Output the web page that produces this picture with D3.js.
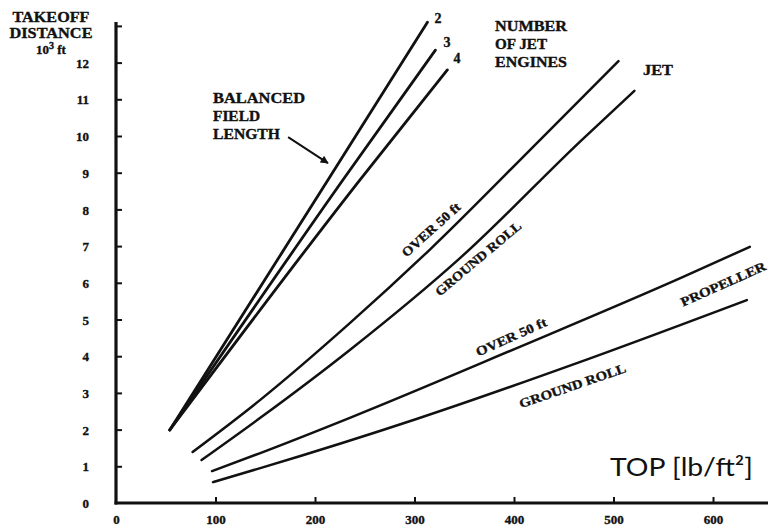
<!DOCTYPE html>
<html>
<head>
<meta charset="utf-8">
<script src="https://cdn.jsdelivr.net/npm/d3@7"></script>
<style>
  body { margin: 0; background: #fff; }
  svg { display: block; }
  .lbl { font-family: "Liberation Serif", "DejaVu Serif", serif; font-weight: bold; fill: #111; stroke: #111; stroke-width: 0.35px; }
</style>
</head>
<body>
<svg id="chart" width="768" height="529"></svg>
<script>
// wing loading (lb/ft^2) vs takeoff distance (10^3 ft)
const xTicks = [0, 100, 200, 300, 400, 500, 600];
const yTicks = [0, 1, 2, 3, 4, 5, 6, 7, 8, 9, 10, 11, 12, 13];

// balanced field length, by number of jet engines
const bfl2X = [54, 213, 313];
const bfl2Y = [1.99, 8.8, 13.1];
const bfl3X = [54, 228, 321];
const bfl3Y = [1.99, 8.8, 12.34];
const bfl4X = [54, 245, 333];
const bfl4Y = [1.99, 8.8, 11.8];

// jet
const jetOverX = [77, 145, 235, 316, 426, 505];
const jetOverY = [1.39, 2.81, 4.90, 6.92, 9.89, 12.04];
const jetRollX = [86, 145, 235, 346, 468, 521];
const jetRollY = [1.17, 2.32, 4.17, 6.68, 9.89, 11.23];

// propeller
const propOverX = [96.5, 145, 235, 401, 570, 637];
const propOverY = [0.87, 1.36, 2.32, 4.20, 6.16, 6.98];
const propRollX = [97.5, 145, 302, 466, 634];
const propRollY = [0.57, 0.95, 2.29, 3.84, 5.53];

const zip = (xs, ys) => xs.map((v, i) => [v, ys[i]]);

const series = [
  zip(bfl2X, bfl2Y), zip(bfl3X, bfl3Y), zip(bfl4X, bfl4Y),
  zip(jetOverX, jetOverY), zip(jetRollX, jetRollY),
  zip(propOverX, propOverY), zip(propRollX, propRollY)
];

const svg = d3.select("#chart");

const x = d3.scaleLinear().domain([0, 700]).range([116, 812.5]);
const y = d3.scaleLinear().domain([0, 13]).range([503, 25.9]);

// axes
const xAxis = d3.axisBottom(x)
  .tickValues(xTicks)
  .tickSizeInner(-6)
  .tickSizeOuter(0)
  .tickPadding(12);

const gx = svg.append("g")
  .attr("transform", `translate(0, ${y(0)})`)
  .call(xAxis);
gx.select(".domain").remove();
gx.selectAll(".tick line").attr("stroke", "#111").attr("stroke-width", 2);
gx.selectAll(".tick").filter(d => d === 0).select("line").remove();
gx.selectAll(".tick text")
  .attr("class", "lbl")
  .attr("font-size", 13);

const yAxis = d3.axisLeft(y)
  .tickValues(yTicks)
  .tickSizeInner(-6)
  .tickSizeOuter(0)
  .tickPadding(27)
  .tickFormat(d => d === 13 ? "" : d);

const gy = svg.append("g")
  .attr("transform", `translate(${x(0)}, 0)`)
  .call(yAxis);
gy.select(".domain").remove();
gy.selectAll(".tick line").attr("stroke", "#111").attr("stroke-width", 2);
gy.selectAll(".tick").filter(d => d === 0).select("line").remove();
gy.selectAll(".tick text")
  .attr("class", "lbl")
  .attr("font-size", 13)
  .attr("dy", "0.36em");

// thick axis lines
svg.append("line")
  .attr("x1", x(0)).attr("y1", y(13) - 4)
  .attr("x2", x(0)).attr("y2", y(0) + 1.5)
  .attr("stroke", "#111").attr("stroke-width", 3.2);
svg.append("line")
  .attr("x1", x(0) - 1.5).attr("y1", y(0))
  .attr("x2", 768).attr("y2", y(0))
  .attr("stroke", "#111").attr("stroke-width", 3.2);

// curves
const line = d3.line()
  .x(d => x(d[0]))
  .y(d => y(d[1]))
  .curve(d3.curveMonotoneX);

svg.append("g")
  .selectAll("path")
  .data(series)
  .enter()
  .append("path")
  .attr("d", line)
  .attr("fill", "none")
  .attr("stroke", "#111")
  .attr("stroke-width", (d, i) => i < 3 ? 2.8 : 2.5)
  .attr("stroke-linecap", "round");

// arrow to the balanced field length curves
svg.append("defs").append("marker")
  .attr("id", "head")
  .attr("viewBox", "0 0 10 10")
  .attr("refX", 9).attr("refY", 5)
  .attr("markerWidth", 5).attr("markerHeight", 4)
  .attr("orient", "auto")
  .append("path")
  .attr("d", "M0,0L10,5L0,10z")
  .attr("fill", "#111");

svg.append("line")
  .attr("x1", x(173)).attr("y1", y(9.97))
  .attr("x2", x(213)).attr("y2", y(9.26))
  .attr("stroke", "#111").attr("stroke-width", 2)
  .attr("marker-end", "url(#head)");

// text labels
function label(txt, px, py, size, len, angle) {
  const t = svg.append("text")
    .attr("class", "lbl")
    .attr("font-size", size)
    .attr("text-anchor", "middle")
    .attr("transform", `translate(${px},${py}) rotate(${angle || 0})`)
    .text(txt);
  if (len) t.attr("textLength", len).attr("lengthAdjust", "spacingAndGlyphs");
  return t;
}

label("TAKEOFF", 51, 22, 15, 77);
label("DISTANCE", 51, 38, 15, 83);
const unit = svg.append("text")
  .attr("class", "lbl")
  .attr("font-size", 13)
  .attr("text-anchor", "middle")
  .attr("x", 51).attr("y", 54);
unit.append("tspan").text("10");
unit.append("tspan").attr("dy", -5).attr("font-size", 10).text("3");
unit.append("tspan").attr("dy", 5).text(" ft");

svg.append("g").selectAll("text")
  .data(["BALANCED", "FIELD", "LENGTH"])
  .enter().append("text")
  .attr("class", "lbl")
  .attr("font-size", 14)
  .attr("x", 213)
  .attr("y", (d, i) => 103 + i * 18)
  .attr("textLength", (d, i) => [92, 47, 67][i])
  .attr("lengthAdjust", "spacingAndGlyphs")
  .text(d => d);

label("2", 438, 23, 14);
label("3", 447, 47, 14);
label("4", 457, 63, 14);

svg.append("g").selectAll("text")
  .data(["NUMBER", "OF JET", "ENGINES"])
  .enter().append("text")
  .attr("class", "lbl")
  .attr("font-size", 14)
  .attr("x", 495)
  .attr("y", (d, i) => 31 + i * 18)
  .attr("textLength", (d, i) => [72, 52, 72][i])
  .attr("lengthAdjust", "spacingAndGlyphs")
  .text(d => d);

label("JET", 658, 75, 14, 30);

label("OVER 50 ft", 434, 233, 13, 74, -42);
label("GROUND ROLL", 481, 262, 13, 108, -40);
label("OVER 50 ft", 513, 341, 13, 76, -24);
label("GROUND ROLL", 574, 390, 13, 112, -19);
label("PROPELLER", 725, 288, 13, 92, -24);

svg.append("text")
  .attr("x", 610).attr("y", 476)
  .attr("font-family", "Lato, 'Open Sans', sans-serif")
  .attr("font-size", 25)
  .attr("fill", "#111")
  .attr("textLength", 143)
  .attr("lengthAdjust", "spacingAndGlyphs")
  .text("TOP [lb/ft²]");
</script>
</body>
</html>
